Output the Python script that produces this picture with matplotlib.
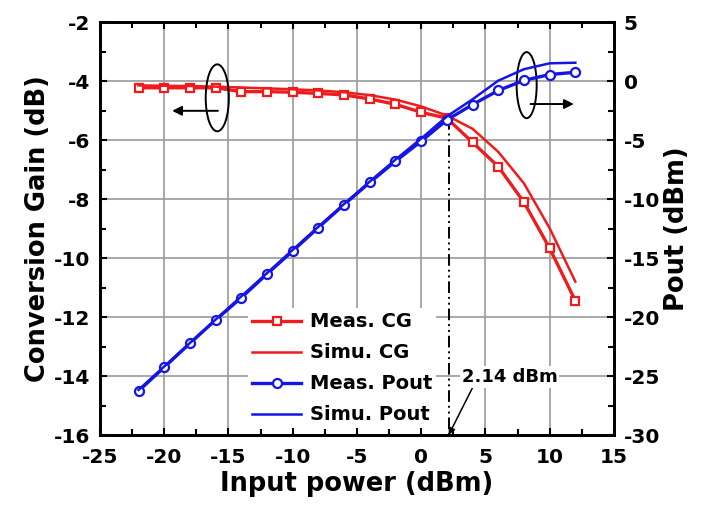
import matplotlib
matplotlib.use("Agg")
import matplotlib.pyplot as plt
from matplotlib.patches import Ellipse
from matplotlib.ticker import MultipleLocator

plt.rcParams['font.family'] = ['DejaVu Sans']
plt.rcParams['font.weight'] = 'bold'
plt.rcParams['axes.unicode_minus'] = False

pin = [-22, -20, -18, -16, -14, -12, -10, -8, -6, -4, -2, 0, 2, 4, 6, 8, 10, 12]
meas_cg = [-4.23, -4.23, -4.23, -4.23, -4.36, -4.36, -4.38, -4.42, -4.47, -4.61,
           -4.79, -5.06, -5.26, -6.08, -6.90, -8.11, -9.67, -11.45]
simu_cg = [-4.15, -4.16, -4.17, -4.19, -4.22, -4.25, -4.28, -4.32, -4.38, -4.48,
           -4.63, -4.86, -5.17, -5.62, -6.40, -7.47, -8.99, -10.80]
meas_pout = [-26.27, -24.26, -22.23, -20.25, -18.36, -16.36, -14.40, -12.42, -10.47,
             -8.60, -6.80, -5.10, -3.30, -2.00, -0.80, 0.05, 0.55, 0.74]
simu_pout = [-26.18, -24.19, -22.20, -20.22, -18.25, -16.28, -14.31, -12.35, -10.42,
             -8.52, -6.66, -4.88, -3.00, -1.55, 0.03, 1.00, 1.50, 1.55]
p1db_x = 2.14
p1db_cg = -5.26

RED = '#ee1c1c'
BLUE = '#1515e6'

fig = plt.figure(figsize=(7.04, 5.05), dpi=100)
ax = fig.add_axes([0.142, 0.1386, 0.730, 0.8178])
ax2 = ax.twinx()

ax.set_xlim(-25, 15)
ax.set_ylim(-16, -2)
ax2.set_ylim(-30, 5)

ax.grid(True, color='#9a9a9a', lw=1.2)
ax.set_axisbelow(True)

l1, = ax.plot(pin, meas_cg, color=RED, lw=2.4, marker='s', ms=6, mfc='white',
              mec=RED, mew=1.6, label='Meas. CG', zorder=3)
l2, = ax.plot(pin, simu_cg, color=RED, lw=1.8, label='Simu. CG', zorder=3)
l3, = ax2.plot(pin, meas_pout, color=BLUE, lw=2.4, marker='o', ms=6.5, mfc='white',
               mec=BLUE, mew=1.6, label='Meas. Pout', zorder=3)
l4, = ax2.plot(pin, simu_pout, color=BLUE, lw=1.8, label='Simu. Pout', zorder=3)

# vertical dash-dot line at P1dB
ax.plot([p1db_x, p1db_x], [p1db_cg, -16], color='black', lw=1.4,
        ls=(0, (6, 2, 1, 2, 1, 2)), zorder=2)

# ellipses and arrows
ax.add_patch(Ellipse((-15.87, -4.57), 1.8, 2.27, fill=False, ec='black', lw=1.4, zorder=4))
ax.annotate('', xy=(-19.6, -5.01), xytext=(-15.6, -5.01),
            arrowprops=dict(arrowstyle='-|>', color='black', lw=1.4, mutation_scale=14), zorder=4)
ax.add_patch(Ellipse((8.21, -4.14), 1.56, 2.24, fill=False, ec='black', lw=1.4, zorder=4))
ax.annotate('', xy=(12.1, -4.78), xytext=(8.3, -4.78),
            arrowprops=dict(arrowstyle='-|>', color='black', lw=1.4, mutation_scale=14), zorder=4)

# 2.14 dBm annotation
ax.annotate('2.14 dBm', xy=(p1db_x, -16), xytext=(6.9, -14.03), fontsize=13, fontweight='bold',
            ha='center', va='center',
            bbox=dict(boxstyle='square,pad=0.1', fc='white', ec='none'),
            arrowprops=dict(arrowstyle='-|>', color='black', lw=1.1, mutation_scale=10,
                            relpos=(0.12, 0.0), shrinkA=0, shrinkB=0), zorder=5)

ax.set_xlabel('Input power (dBm)', fontsize=18.5, fontweight='bold', labelpad=3)
ax.set_ylabel('Conversion Gain (dB)', fontsize=18.5, fontweight='bold', labelpad=2)
ax2.set_ylabel('Pout (dBm)', fontsize=18.5, fontweight='bold', labelpad=3)

ax.xaxis.set_major_locator(MultipleLocator(5))
ax.xaxis.set_minor_locator(MultipleLocator(2.5))
ax.yaxis.set_major_locator(MultipleLocator(2))
ax.yaxis.set_minor_locator(MultipleLocator(1))
ax2.yaxis.set_major_locator(MultipleLocator(5))
ax2.yaxis.set_minor_locator(MultipleLocator(2.5))

ax.tick_params(axis='both', which='both', direction='in', width=1.5, labelsize=14.5)
ax.tick_params(axis='x', which='both', top=True, pad=9)
ax.tick_params(axis='y', which='both', right=False, pad=7)
ax.tick_params(which='major', length=5)
ax.tick_params(which='minor', length=4)
ax2.tick_params(axis='y', which='both', direction='in', width=1.5, labelsize=14.5, pad=7)
ax2.tick_params(which='major', length=5)
ax2.tick_params(which='minor', length=4)
for lab in ax.get_xticklabels() + ax.get_yticklabels() + ax2.get_yticklabels():
    lab.set_fontweight('bold')

for sp in list(ax.spines.values()) + list(ax2.spines.values()):
    sp.set_linewidth(2)

leg = ax2.legend(handles=[l1, l2, l3, l4], loc='upper left', bbox_to_anchor=(0.27, 0.33),
                 frameon=True, facecolor='white', edgecolor='none', framealpha=1,
                 prop={'weight': 'bold', 'size': 14}, handlelength=2.5,
                 handletextpad=0.45, borderpad=0.2, labelspacing=0.62)
leg.set_zorder(6)

fig.savefig('out.png', dpi=100)
